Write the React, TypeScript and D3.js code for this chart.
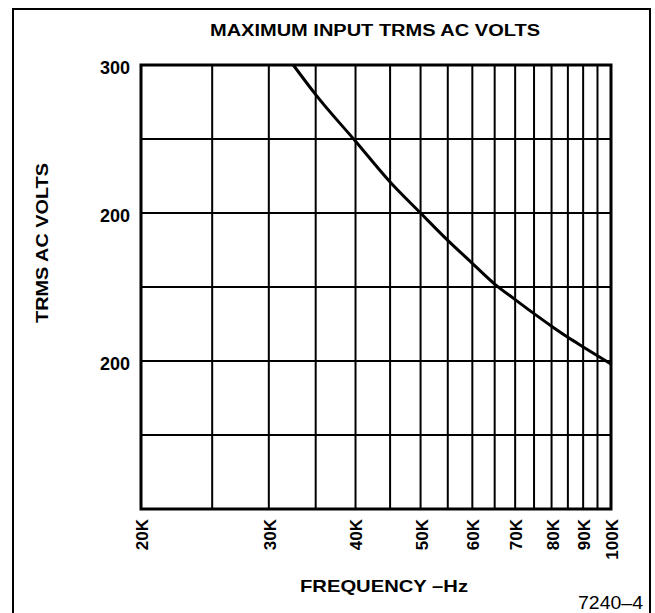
import React, { useEffect, useRef } from "react";
import * as d3 from "d3";

// grid + labels
const freqGrid = [20000, 25000, 30000, 35000, 40000, 45000, 50000, 55000, 60000, 65000, 70000, 75000, 80000, 85000, 90000, 95000, 100000];
const freqTickValues = [20000, 30000, 40000, 50000, 60000, 70000, 80000, 90000, 100000];
const freqTickLabels = ["20K", "30K", "40K", "50K", "60K", "70K", "80K", "90K", "100K"];
const voltGrid = [0, 50, 100, 150, 200, 250, 300];
const voltTickValues = [300, 200, 100];
const voltTickLabels = ["300", "200", "200"];

// curve
const freqHz = [32500, 35000, 40000, 45000, 50000, 55000, 60000, 65000, 70000, 75000, 80000, 85000, 90000, 95000, 100000];
const maxVolts = [300, 280, 248.5, 221, 200, 181.5, 166, 152, 141.5, 132, 123.5, 116, 109.5, 103.5, 98];

export default function App() {
  const ref = useRef<SVGSVGElement | null>(null);
  useEffect(() => {
    const node = ref.current; if (!node) return;
    const svg = d3.select(node);
    const w = 655, h = 613, m = { t: 65, r: 44, b: 104, l: 141 };
    svg.attr("viewBox", `0 0 ${w} ${h}`).selectAll("*").remove();
    const font = "'Liberation Sans', Arial, Helvetica, sans-serif";

    // the scale on the sheet isn't a true log scale; a weak inverse power fits the rulings
    const x = d3.scalePow().exponent(-0.13).domain([20000, 100000]).range([m.l, w - m.r]);
    const y = d3.scaleLinear().domain([0, 300]).range([h - m.b, m.t]);

    svg.append("rect").attr("width", w).attr("height", h).attr("fill", "#fff");
    // outer frame (runs off the bottom of the scan)
    svg.append("path").attr("d", `M13,${h + 10}V9H650V${h + 10}`).attr("fill", "none").attr("stroke", "#000").attr("stroke-width", 2);

    const g = svg.append("g");
    g.selectAll("line.v").data(freqGrid).join("line").attr("class", "v")
      .attr("x1", (d) => x(d)).attr("x2", (d) => x(d)).attr("y1", y(0)).attr("y2", y(300))
      .attr("stroke", "#000").attr("stroke-width", 2);
    g.selectAll("line.h").data(voltGrid).join("line").attr("class", "h")
      .attr("x1", x(20000)).attr("x2", x(100000)).attr("y1", (d) => y(d)).attr("y2", (d) => y(d))
      .attr("stroke", "#000").attr("stroke-width", 2);
    g.append("rect").attr("x", x(20000)).attr("y", y(300)).attr("width", x(100000) - x(20000)).attr("height", y(0) - y(300))
      .attr("fill", "none").attr("stroke", "#000").attr("stroke-width", 3);

    const line = d3.line<number>().x((_, i) => x(freqHz[i])).y((d) => y(d)).curve(d3.curveMonotoneX);
    g.append("path").datum(maxVolts).attr("fill", "none").attr("stroke", "#000").attr("stroke-width", 3).attr("stroke-linejoin", "round").attr("d", line);

    // y tick labels
    g.selectAll("text.yt").data(voltTickValues).join("text").attr("class", "yt")
      .attr("x", m.l - 11).attr("y", (d) => y(d) + 3).attr("dy", "0.35em").attr("text-anchor", "end")
      .attr("font-family", font).attr("font-weight", "bold").attr("font-size", 18)
      .text((_, i) => voltTickLabels[i]);

    // x tick labels, rotated
    g.selectAll("text.xt").data(freqTickValues).join("text").attr("class", "xt")
      .attr("transform", (d) => `translate(${x(d) + 1},${h - m.b + 10}) rotate(-90)`)
      .attr("dy", "0.35em").attr("text-anchor", "end")
      .attr("font-family", font).attr("font-weight", "bold").attr("font-size", 17)
      .text((_, i) => freqTickLabels[i]);

    svg.append("text").attr("x", 375).attr("y", 36).attr("text-anchor", "middle")
      .attr("font-family", font).attr("font-weight", "bold").attr("font-size", 16)
      .attr("textLength", 330).attr("lengthAdjust", "spacingAndGlyphs")
      .text("MAXIMUM INPUT TRMS AC VOLTS");

    svg.append("text").attr("transform", `translate(48,243) rotate(-90)`).attr("text-anchor", "middle")
      .attr("font-family", font).attr("font-weight", "bold").attr("font-size", 17)
      .attr("textLength", 160).attr("lengthAdjust", "spacingAndGlyphs")
      .text("TRMS AC VOLTS");

    svg.append("text").attr("x", 300).attr("y", 592)
      .attr("font-family", font).attr("font-weight", "bold").attr("font-size", 17)
      .attr("textLength", 168).attr("lengthAdjust", "spacingAndGlyphs")
      .text("FREQUENCY \u2013Hz");

    svg.append("text").attr("x", 578).attr("y", 609)
      .attr("font-family", font).attr("font-size", 19)
      .attr("textLength", 65).attr("lengthAdjust", "spacingAndGlyphs")
      .text("7240\u20134");
  }, []);
  return <svg ref={ref} width={655} height={613} style={{ position: "absolute", left: 0, top: 0, display: "block" }} />;
}
